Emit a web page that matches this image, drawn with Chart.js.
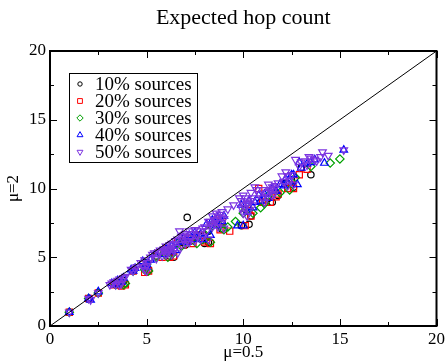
<!DOCTYPE html>
<html>
<head>
<meta charset="utf-8">
<script src="https://cdn.jsdelivr.net/npm/chart.js@4.4.1/dist/chart.umd.min.js"></script>
<style>
html,body{margin:0;padding:0;background:#fff;}
#wrap{width:448px;height:364px;}
</style>
</head>
<body>
<div id="wrap"><canvas id="c" width="448" height="364"></canvas></div>
<script>
const chartTitle = "Expected hop count";
const xAxisTitle = "μ=0.5";
const yAxisTitle = "μ=2";
const xTicks = [0, 5, 10, 15, 20];
const yTicks = [0, 5, 10, 15, 20];
const seriesNames = ["10% sources", "20% sources", "30% sources", "40% sources", "50% sources"];

const x10 = [1.0, 2.0, 2.5, 3.3, 3.6, 3.8, 4.3, 4.9, 5.0, 5.5, 5.9, 6.2, 6.4, 6.8, 7.1, 7.3, 7.7, 8.0, 8.2, 8.6, 8.9, 9.9, 10.1, 10.4, 10.9, 11.3, 11.8, 12.2, 12.5, 13.5, 13.0,
             3.9, 5.1, 6.2, 7.0, 8.2, 10.3, 11.5, 12.6];
const y10 = [1.0, 2.0, 2.4, 3.1, 3.2, 3.3, 4.1, 4.2, 4.6, 5.1, 5.3, 5.5, 5.0, 6.1, 7.9, 6.4, 6.6, 6.0, 6.9, 7.4, 7.05, 7.3, 8.5, 8.0, 9.0, 9.3, 9.5, 10.4, 10.6, 11.0, 11.5,
             3.1, 4.1, 5.1, 5.9, 6.1, 7.4, 9.0, 10.1];

const x20 = [1.0, 2.0, 2.5, 3.3, 3.5, 3.7, 3.9, 4.3, 4.8, 4.9, 5.1, 5.6, 6.0, 6.2, 6.6, 7.0, 7.4, 7.8, 8.1, 8.3, 8.6, 8.9, 9.3, 10.1, 10.3, 10.8, 11.1, 11.4, 11.8, 12.3, 12.6, 12.9, 13.3,
             3.6, 5.0, 5.8, 6.4, 6.9, 7.3, 8.0, 8.8, 10.4, 11.0, 11.7, 12.5];
const y20 = [1.0, 2.0, 2.4, 3.0, 3.0, 2.9, 3.0, 4.0, 4.5, 3.9, 4.0, 5.3, 5.6, 5.0, 6.1, 6.4, 6.0, 6.6, 6.2, 6.0, 7.7, 7.6, 6.9, 7.3, 8.4, 10.0, 9.0, 9.0, 9.6, 10.0, 10.0, 11.0, 11.4,
             3.0, 4.1, 5.0, 5.1, 5.9, 6.2, 6.1, 7.0, 8.0, 9.0, 9.4, 10.3];

const x30 = [1.0, 2.0, 2.5, 3.4, 3.7, 3.9, 4.3, 4.9, 5.0, 5.5, 5.9, 6.3, 6.6, 7.0, 7.5, 7.9, 8.2, 8.5, 8.8, 9.2, 9.6, 10.0, 10.3, 10.9, 11.3, 11.9, 12.3, 12.7, 13.5, 14.5, 15.0,
             3.8, 5.1, 6.1, 6.8, 7.6, 8.3, 9.0, 10.5, 11.1, 12.4];
const y30 = [1.0, 2.0, 2.4, 3.0, 3.2, 3.1, 4.0, 4.1, 4.5, 5.0, 5.3, 5.2, 6.0, 6.2, 6.5, 6.3, 7.0, 7.5, 7.3, 7.2, 7.6, 8.2, 8.5, 8.6, 9.5, 9.7, 10.3, 10.8, 11.6, 11.85, 12.15,
             3.0, 4.0, 5.0, 5.8, 6.0, 6.1, 7.0, 8.2, 8.9, 9.9];

const x40 = [1.0, 2.0, 2.1, 2.5, 3.2, 3.5, 3.8, 4.2, 4.4, 4.8, 5.0, 5.4, 5.7, 6.0, 6.3, 6.6, 6.9, 7.2, 7.5, 7.8, 8.1, 8.4, 8.7, 9.0, 9.7, 10.0, 9.9, 10.3, 10.6, 10.8, 11.1, 11.5, 11.9, 12.2, 12.5, 12.8, 12.9, 13.3, 13.7, 14.2, 15.2,
             3.4, 3.7, 4.3, 5.0, 5.2, 5.9, 6.2, 6.5, 6.8, 7.1, 7.4, 7.9, 8.3, 8.6, 8.9, 10.2, 10.5, 10.9, 11.3, 11.7, 12.1, 12.4, 12.6, 13.0, 13.5];
const y40 = [1.0, 2.0, 1.9, 2.5, 3.1, 3.3, 3.5, 4.1, 4.2, 4.7, 4.3, 5.2, 5.4, 5.6, 5.8, 6.1, 6.4, 6.6, 6.8, 6.7, 7.4, 7.7, 7.9, 8.0, 7.3, 7.3, 8.8, 9.1, 9.0, 9.5, 9.6, 10.0, 10.3, 10.7, 11.0, 10.3, 11.9, 11.8, 12.1, 11.85, 12.8,
             3.0, 3.2, 4.0, 4.5, 4.8, 5.2, 5.4, 5.5, 6.2, 6.1, 6.3, 6.3, 6.6, 7.3, 7.6, 8.3, 8.6, 9.1, 9.3, 9.8, 10.2, 10.5, 11.0, 11.5, 11.9];

const x50 = [1.0, 2.0, 2.1, 2.5, 3.1, 3.3, 3.4, 3.6, 3.8, 3.7, 4.2, 4.4, 4.3, 4.7, 4.9, 5.0, 5.2, 5.4, 5.5, 5.7, 5.8, 6.0, 6.1, 6.3, 6.4, 6.6, 6.7, 6.9, 7.0, 7.2, 7.3, 7.5, 7.6, 7.8, 8.0, 8.2, 8.4, 8.6, 8.5, 8.8, 9.0, 9.2, 9.5, 9.8, 10.0, 9.9, 10.2, 10.4, 10.6, 10.5, 10.8, 11.0, 11.3, 11.2, 11.6, 11.8, 12.0, 12.2, 12.4, 12.7, 12.9, 13.2, 13.5, 13.8, 14.1, 14.4, 15.2,
             3.2, 3.5, 3.9, 3.6, 4.5, 4.8, 5.1, 4.9, 5.0, 5.3, 5.6, 5.9, 6.2, 6.5, 6.8, 6.2, 6.5, 6.8, 6.0, 6.3, 6.6, 7.0, 7.1, 7.4, 7.7, 7.9, 8.1, 7.5, 7.9, 8.2, 7.2, 8.3, 8.7, 8.9, 8.4, 8.7, 9.0, 9.9, 10.1, 10.3, 10.5, 10.7, 10.0, 10.2, 11.0, 11.4, 11.7, 11.1, 11.5, 12.1, 12.3, 12.5, 12.6, 12.3, 13.0, 13.4, 13.7, 14.0, 13.3,
             5.7, 5.9, 6.1, 6.3, 6.0, 8.3, 8.5, 8.7, 8.9, 8.6, 10.0, 10.2, 10.4, 10.1, 11.2, 11.4, 11.6, 11.5];
const y50 = [1.0, 2.0, 1.9, 2.4, 3.0, 3.2, 3.0, 3.4, 3.5, 3.1, 4.1, 4.2, 4.0, 4.6, 4.8, 4.4, 5.0, 5.3, 4.9, 5.5, 5.1, 5.8, 5.3, 6.0, 5.5, 6.3, 6.9, 6.6, 6.0, 6.9, 6.4, 7.0, 6.6, 6.3, 7.2, 7.6, 8.0, 8.2, 7.4, 8.1, 7.8, 8.5, 8.8, 9.3, 9.5, 8.6, 9.0, 9.7, 10.1, 8.8, 9.6, 9.9, 10.3, 9.4, 10.0, 10.4, 10.9, 11.2, 10.6, 12.1, 11.6, 12.0, 12.2, 12.0, 12.65, 12.4, 12.8,
             3.1, 3.3, 3.6, 3.0, 4.3, 4.3, 4.6, 4.1, 4.0, 5.2, 5.3, 5.6, 5.9, 6.2, 6.5, 5.6, 5.7, 5.9, 5.2, 5.2, 5.3, 6.7, 6.2, 6.7, 6.9, 7.1, 6.9, 6.2, 6.5, 6.3, 6.1, 7.6, 7.9, 8.3, 7.2, 7.2, 7.1, 9.1, 9.3, 8.4, 9.3, 9.9, 8.2, 8.0, 9.3, 9.8, 10.2, 9.0, 9.5, 10.5, 10.9, 11.0, 10.3, 10.2, 11.9, 12.3, 12.1, 12.3, 11.7,
             5.4, 5.5, 5.5, 5.7, 5.6, 7.4, 7.7, 7.5, 7.9, 7.7, 8.8, 8.9, 9.1, 8.6, 9.7, 9.9, 9.6, 10.1];

const diagX = [0, 20];
const diagY = [0, 20];

const colors = ["#000000", "#ff0000", "#00a000", "#0000ff", "#7c34e0"];
const styles = ["circle", "rect", "rectRot", "triangle", "triangle"];
const rotations = [0, 0, 0, 0, 180];
const radii = [3.2, 4.4, 4.2, 4.4, 4.4];

function pts(xs, ys) { return xs.map((x, i) => ({x: x, y: ys[i]})); }
const allX = [x10, x20, x30, x40, x50];
const allY = [y10, y20, y30, y40, y50];

const datasets = seriesNames.map((name, i) => ({
  type: 'scatter',
  label: name,
  data: pts(allX[i], allY[i]),
  borderColor: colors[i],
  backgroundColor: 'rgba(0,0,0,0)',
  pointStyle: styles[i],
  rotation: rotations[i],
  pointRadius: radii[i],
  pointBorderWidth: 1.2,
  order: 10 - i
}));
datasets.push({
  type: 'line',
  label: 'diagonal',
  data: pts(diagX, diagY),
  borderColor: '#000',
  borderWidth: 1,
  pointRadius: 0,
  fill: false,
  order: 0
});

const serif = "'Liberation Serif','DejaVu Serif',serif";

const framePlugin = {
  id: 'frame',
  afterDraw(chart) {
    const ctx = chart.ctx;
    const a = chart.chartArea;
    const xs = chart.scales.x, ys = chart.scales.y;
    ctx.save();
    ctx.strokeStyle = '#000';
    ctx.lineWidth = 1;
    for (let v = 0; v <= 20; v += 2.5) {
      const len = (v % 5 === 0) ? 7 : 4;
      const px = Math.round(xs.getPixelForValue(v)) + 0.5;
      ctx.beginPath();
      ctx.moveTo(px, a.bottom); ctx.lineTo(px, a.bottom - len);
      ctx.moveTo(px, a.top); ctx.lineTo(px, a.top + len);
      ctx.stroke();
      const py = Math.round(ys.getPixelForValue(v)) + 0.5;
      ctx.beginPath();
      ctx.moveTo(a.left, py); ctx.lineTo(a.left + len, py);
      ctx.moveTo(a.right, py); ctx.lineTo(a.right - len, py);
      ctx.stroke();
    }
    ctx.lineWidth = 2;
    ctx.strokeRect(a.left, a.top, a.right - a.left, a.bottom - a.top);
    // legend box
    const lx = 69, ly = 73, lw = 128, lh = 89;
    ctx.lineWidth = 1;
    ctx.fillStyle = '#fff';
    ctx.fillRect(lx, ly, lw, lh);
    ctx.strokeStyle = '#000';
    ctx.strokeRect(lx + 0.5, ly + 0.5, lw, lh);
    ctx.font = "19px " + serif;
    ctx.textBaseline = 'middle';
    ctx.textAlign = 'left';
    seriesNames.forEach((name, i) => {
      const cy = 84 + i * 17;
      ctx.strokeStyle = colors[i];
      ctx.fillStyle = 'rgba(0,0,0,0)';
      ctx.lineWidth = 1;
      Chart.helpers.drawPoint(ctx, {pointStyle: styles[i], rotation: rotations[i], radius: radii[i] - 1, borderWidth: 1}, 80, cy);
      ctx.fillStyle = '#000';
      ctx.fillText(name, 95, cy + 1);
    });
    ctx.restore();
  }
};

new Chart(document.getElementById('c'), {
  data: {datasets: datasets},
  options: {
    responsive: false,
    animation: false,
    layout: {padding: {left: 0, right: 8, top: 0, bottom: 0}},
    plugins: {
      legend: {display: false},
      tooltip: {enabled: false},
      title: {
        display: true,
        text: chartTitle,
        fullSize: false,
        color: '#000',
        font: {family: serif, size: 22, weight: 'normal'},
        padding: {top: 5, bottom: 19.6}
      }
    },
    scales: {
      x: {
        type: 'linear',
        min: 0, max: 20,
        afterBuildTicks(s) { s.ticks = xTicks.map(v => ({value: v})); },
        afterFit(s) { s.height = 38; },
        grid: {display: false, drawTicks: false},
        border: {display: false},
        ticks: {color: '#000', padding: 3, font: {family: serif, size: 17}, maxRotation: 0},
        title: {display: true, text: xAxisTitle, color: '#000', font: {family: serif, size: 17}, padding: {top: 0, bottom: 1.5}}
      },
      y: {
        type: 'linear',
        min: 0, max: 20,
        afterBuildTicks(s) { s.ticks = yTicks.map(v => ({value: v})); },
        afterFit(s) { s.width = 50; },
        grid: {display: false, drawTicks: false},
        border: {display: false},
        ticks: {color: '#000', padding: 4, font: {family: serif, size: 17}},
        title: {display: true, text: yAxisTitle, color: '#000', font: {family: serif, size: 17}, padding: {top: 3, bottom: 0}}
      }
    }
  },
  plugins: [framePlugin]
});
</script>
</body>
</html>
